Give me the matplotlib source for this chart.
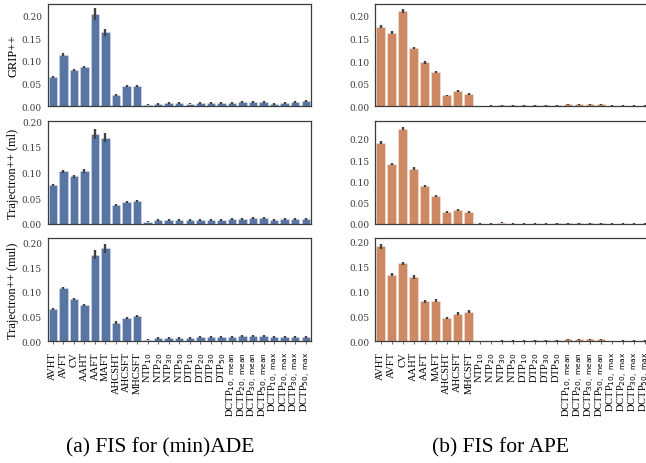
import numpy as np
import matplotlib
matplotlib.use("Agg")
import matplotlib.pyplot as plt

# feature names (x axis)
features = ["AVHT", "AVFT", "CV", "AAHT", "AAFT", "MAFT", "AHCSHT", "AHCSFT", "MHCSFT",
            "NTP$_{10}$", "NTP$_{20}$", "NTP$_{30}$", "NTP$_{50}$",
            "DTP$_{10}$", "DTP$_{20}$", "DTP$_{30}$", "DTP$_{50}$",
            r"DCTP$_{\mathrm{10,\ mean}}$", r"DCTP$_{\mathrm{20,\ mean}}$",
            r"DCTP$_{\mathrm{30,\ mean}}$", r"DCTP$_{\mathrm{50,\ mean}}$",
            r"DCTP$_{\mathrm{10,\ max}}$", r"DCTP$_{\mathrm{20,\ max}}$",
            r"DCTP$_{\mathrm{30,\ max}}$", r"DCTP$_{\mathrm{50,\ max}}$"]

models = ["GRIP++", "Trajectron++ (ml)", "Trajectron++ (mul)"]

# feature importance scores for (min)ADE
ade_grip = [0.065, 0.114, 0.080, 0.086, 0.204, 0.163, 0.025, 0.045, 0.044,
            0.003, 0.005, 0.007, 0.007, 0.006, 0.007, 0.007, 0.007,
            0.007, 0.009, 0.010, 0.010, 0.005, 0.008, 0.009, 0.011]
ade_grip_err = [0.002, 0.003, 0.002, 0.002, 0.013, 0.008, 0.002, 0.002, 0.002,
                0.001, 0.002, 0.002, 0.002, 0.002, 0.002, 0.002, 0.002,
                0.002, 0.002, 0.002, 0.002, 0.002, 0.002, 0.002, 0.002]
ade_tml = [0.076, 0.103, 0.093, 0.103, 0.175, 0.168, 0.037, 0.042, 0.045,
           0.004, 0.008, 0.008, 0.007, 0.007, 0.008, 0.008, 0.008,
           0.009, 0.010, 0.011, 0.011, 0.008, 0.009, 0.009, 0.009]
ade_tml_err = [0.002, 0.003, 0.003, 0.004, 0.0095, 0.009, 0.002, 0.002, 0.002,
               0.001, 0.002, 0.002, 0.002, 0.002, 0.002, 0.002, 0.002,
               0.002, 0.002, 0.002, 0.002, 0.002, 0.002, 0.002, 0.002]
ade_tmul = [0.065, 0.107, 0.086, 0.074, 0.175, 0.188, 0.038, 0.048, 0.051,
            0.003, 0.007, 0.007, 0.007, 0.007, 0.009, 0.009, 0.009,
            0.009, 0.010, 0.011, 0.011, 0.008, 0.009, 0.009, 0.009]
ade_tmul_err = [0.002, 0.002, 0.002, 0.002, 0.0088, 0.0094, 0.003, 0.002, 0.002,
                0.001, 0.002, 0.002, 0.002, 0.002, 0.002, 0.002, 0.002,
                0.002, 0.002, 0.002, 0.002, 0.002, 0.002, 0.002, 0.002]

# feature importance scores for APE
ape_grip = [0.176, 0.163, 0.211, 0.129, 0.097, 0.075, 0.024, 0.033, 0.027,
            0.0005, 0.001, 0.002, 0.002, 0.002, 0.002, 0.002, 0.002,
            0.0045, 0.0045, 0.0045, 0.0045, 0.0008, 0.0008, 0.0008, 0.0008]
ape_grip_err = [0.003, 0.003, 0.004, 0.003, 0.003, 0.002, 0.002, 0.002, 0.002,
                0.001, 0.001, 0.001, 0.001, 0.001, 0.001, 0.001, 0.001,
                0.001, 0.001, 0.001, 0.001, 0.001, 0.001, 0.001, 0.001]
ape_tml = [0.191, 0.141, 0.2235, 0.130, 0.089, 0.066, 0.028, 0.033, 0.028,
           0.0003, 0.001, 0.003, 0.001, 0.0005, 0.0008, 0.001, 0.0012,
           0.0012, 0.0012, 0.0012, 0.0012, 0.0005, 0.0005, 0.0005, 0.0005]
ape_tml_err = [0.004, 0.003, 0.004, 0.003, 0.003, 0.002, 0.002, 0.002, 0.002,
               0.001, 0.001, 0.001, 0.001, 0.001, 0.001, 0.001, 0.001,
               0.001, 0.001, 0.001, 0.001, 0.001, 0.001, 0.001, 0.001]
ape_tmul = [0.190, 0.133, 0.1565, 0.128, 0.080, 0.0815, 0.046, 0.0555, 0.0595,
            0.0003, 0.0005, 0.0015, 0.0015, 0.0015, 0.002, 0.002, 0.002,
            0.0045, 0.0045, 0.0045, 0.0045, 0.0005, 0.001, 0.001, 0.001]
ape_tmul_err = [0.005, 0.003, 0.003, 0.004, 0.003, 0.003, 0.002, 0.003, 0.003,
                0.001, 0.001, 0.001, 0.001, 0.001, 0.001, 0.001, 0.001,
                0.001, 0.001, 0.001, 0.001, 0.001, 0.001, 0.001, 0.001]

ade = [(ade_grip, ade_grip_err), (ade_tml, ade_tml_err), (ade_tmul, ade_tmul_err)]
ape = [(ape_grip, ape_grip_err), (ape_tml, ape_tml_err), (ape_tmul, ape_tmul_err)]
ade_ylim = [0.226, 0.194, 0.209]
ape_ylim = [0.227, 0.241, 0.207]

blue = "#5975A4"
orange = "#CC8963"
serif = "Liberation Serif"

fig = plt.figure(figsize=(6.46, 4.64), dpi=100)
W, H = 646.0, 464.0
rows_px = [(4.7, 107.3), (122.3, 225.0), (239.0, 342.3)]
cols_px = [(47.5, 311.0), (375.3, 650.5)]

x = np.arange(len(features))
for c, (data, ylims, color) in enumerate([(ade, ade_ylim, blue), (ape, ape_ylim, orange)]):
    for r in range(3):
        x0, x1 = cols_px[c]
        y0, y1 = rows_px[r]
        ax = fig.add_axes([x0 / W, 1 - y1 / H, (x1 - x0) / W, (y1 - y0) / H])
        vals, errs = data[r]
        ax.bar(x, vals, width=0.8, color=color, edgecolor=(1, 1, 1, 0.35), linewidth=0.6,
               yerr=errs, error_kw=dict(ecolor="#424242", elinewidth=1.7, capsize=0))
        ax.set_xlim(-0.5, len(features) - 0.5)
        ax.set_ylim(0, ylims[r])
        ax.set_yticks([0, 0.05, 0.10, 0.15, 0.20])
        ax.set_yticklabels(["0.00", "0.05", "0.10", "0.15", "0.20"],
                           fontsize=6.4, family="DejaVu Serif", color="#3a3a3a")
        ax.tick_params(axis="y", length=0, pad=4)
        ax.tick_params(axis="x", length=2.5, width=0.6, color="#555555", pad=4.5)
        for s in ax.spines.values():
            s.set_color("#3c3c3c")
            s.set_linewidth(0.9)
        ax.set_xticks(x)
        if r == 2:
            ax.set_xticklabels(features, rotation=90, fontsize=7.6, family=serif)
        else:
            ax.set_xticklabels([])
            ax.tick_params(axis="x", length=0)
        if c == 0:
            ax.set_ylabel(models[r], fontsize=9, family=serif, labelpad=2)

fig.text(160 / W, 1 - 448 / H, "(a) FIS for (min)ADE", ha="center", va="center",
         fontsize=15.5, family=serif)
fig.text(501 / W, 1 - 448 / H, "(b) FIS for APE", ha="center", va="center",
         fontsize=15.5, family=serif)

fig.savefig("out.png", dpi=100)
